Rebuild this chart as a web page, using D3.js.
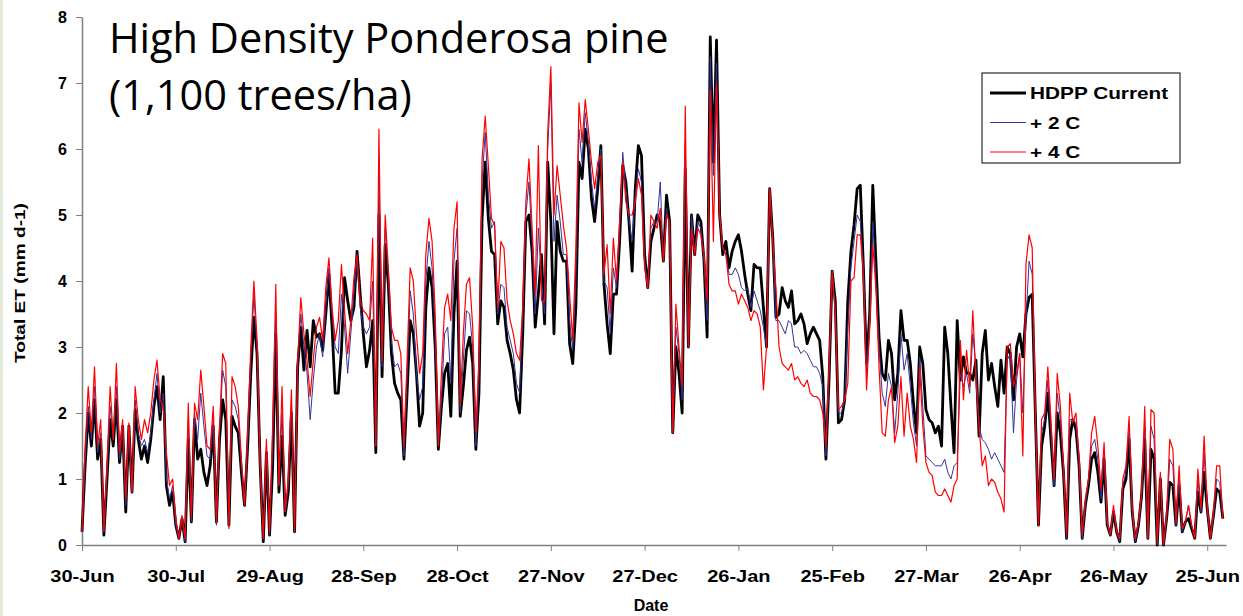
<!DOCTYPE html>
<html>
<head>
<meta charset="utf-8">
<script src="https://cdn.jsdelivr.net/npm/d3@7"></script>
<style>
  body { margin:0; background:#fff; }
  #chart svg { display:block; }
</style>
</head>
<body>
<div id="chart"></div>
<script>
// daily total ET (mm d-1), first value is 30-Jun
const hdppCurrent = [
0.2,1.2,2.0,1.5,2.2,1.3,1.6,0.15,1.0,1.9,
1.5,2.2,1.25,1.8,0.5,1.8,0.8,2.05,1.6,1.3,
1.5,1.25,1.6,2.1,2.4,1.9,2.55,0.9,0.6,0.8,
0.3,0.1,0.4,0.05,1.6,0.35,1.9,1.3,1.45,1.1,
0.9,1.2,1.8,0.35,1.6,2.2,1.9,0.3,1.95,1.8,
1.7,1.1,0.6,1.5,2.6,3.45,2.9,1.2,0.05,1.4,
0.15,1.2,3.2,0.8,1.65,0.45,0.8,2.0,0.2,2.7,
3.3,2.65,3.25,2.7,3.4,3.15,3.2,2.95,3.5,4.1,
3.3,2.3,2.3,2.95,4.05,3.7,3.4,3.6,4.45,3.8,
3.2,2.7,2.95,3.4,1.4,5.0,2.55,4.55,3.95,2.9,
2.45,2.3,2.2,1.3,2.3,3.4,3.2,2.6,1.8,2.0,
3.6,4.2,3.9,3.0,1.45,2.1,2.6,2.75,1.95,3.5,
4.3,1.95,2.4,2.95,3.15,2.75,1.45,2.3,4.95,5.8,
4.95,4.45,4.4,3.35,3.7,3.6,3.1,2.9,2.65,2.2,
2.0,3.2,4.9,5.0,4.45,3.3,3.8,4.4,3.35,5.8,
4.9,3.2,4.9,4.45,4.3,4.3,3.05,2.75,3.6,5.8,
5.55,6.3,6.0,5.25,4.9,5.4,6.05,3.95,3.35,2.9,
3.8,3.8,4.6,5.75,5.5,4.9,4.15,5.4,6.05,5.9,
4.4,3.9,4.6,4.8,5.0,4.9,4.3,5.3,4.9,1.7,
3.0,2.6,2.0,5.7,3.0,5.0,4.4,5.0,4.9,4.3,
3.15,7.7,5.8,7.65,5.0,4.4,4.6,4.2,4.45,4.6,
4.7,4.45,4.1,3.8,3.55,4.25,4.2,4.2,3.6,3.0,
5.4,4.65,3.45,3.5,3.9,3.7,3.6,3.85,3.35,3.4,
3.5,3.35,3.05,3.2,3.3,3.2,3.1,2.55,1.3,2.5,
4.15,3.7,1.85,1.9,2.2,3.7,4.45,4.85,5.4,5.45,
4.2,2.75,3.5,5.45,4.3,3.15,2.6,2.5,3.1,2.9,
2.2,2.6,3.55,3.1,3.1,2.75,2.15,1.7,3.0,2.75,
2.05,1.9,1.85,1.7,1.8,1.5,3.3,2.9,2.1,1.4,
3.4,2.5,2.85,2.6,2.6,2.5,2.8,1.65,2.9,3.25,
2.5,2.75,2.4,2.1,2.8,2.3,3.0,2.9,2.2,3.0,
3.2,2.85,3.5,3.75,3.8,2.0,0.3,1.5,1.8,2.3,
1.6,0.9,2.0,1.7,1.1,0.1,1.6,1.9,1.75,1.2,
0.1,0.6,0.9,1.3,1.4,1.1,0.65,1.3,0.3,0.15,
0.5,0.2,0.05,0.85,1.0,1.6,0.5,0.05,0.3,0.75,
1.6,0.1,1.45,1.3,0.0,1.0,0.0,0.4,0.95,0.9,
0.3,0.9,0.2,0.35,0.4,0.25,0.1,0.8,0.5,1.1,
0.55,0.1,0.45,0.85,0.8,0.4];

const plus2C = [
0.2,1.3,2.1,1.6,2.4,1.4,1.7,0.2,1.1,2.1,
1.6,2.4,1.3,1.8,0.6,1.8,0.8,2.2,1.7,1.5,
1.6,1.4,1.7,2.2,2.6,2.0,2.3,1.0,0.7,0.9,
0.3,0.1,0.4,0.05,1.9,0.35,2.0,1.6,2.3,1.8,
1.35,1.3,1.9,0.3,1.7,2.65,2.4,0.3,2.2,2.1,
1.9,1.2,0.6,1.6,2.8,3.8,3.0,1.2,0.1,1.5,
0.15,1.5,3.5,0.9,2.0,0.5,0.9,2.2,0.2,2.8,
3.5,3.0,2.6,1.9,2.5,3.0,3.2,2.85,3.6,4.2,
3.5,3.0,2.9,3.8,3.3,2.6,3.2,3.8,4.3,3.6,
3.3,3.2,3.3,4.0,1.5,5.65,2.7,4.8,4.1,3.1,
2.7,2.75,2.6,1.35,2.5,3.85,3.5,2.6,2.2,2.4,
4.0,4.6,4.2,3.2,1.5,2.2,3.2,3.3,2.5,4.3,
4.8,2.0,2.8,3.55,3.5,3.0,1.5,2.5,5.5,6.25,
5.3,4.8,4.9,3.5,3.95,3.9,3.3,3.1,2.9,2.45,
2.3,3.5,5.0,5.5,4.6,3.5,4.8,4.0,3.5,6.0,
7.0,4.6,5.3,4.9,4.4,4.4,3.4,2.95,4.0,6.3,
5.8,6.55,6.1,5.5,5.1,5.6,6.0,4.0,3.9,3.2,
4.2,3.9,4.8,5.95,5.4,4.95,4.6,5.3,5.7,5.5,
4.3,3.9,4.8,4.9,4.9,5.5,4.3,5.1,4.8,1.7,
3.3,2.9,2.2,6.1,3.0,5.0,4.4,4.9,4.8,4.3,
3.4,7.4,5.6,7.3,5.0,4.5,4.4,4.1,4.1,4.2,
4.1,3.9,3.85,3.9,3.6,3.85,3.7,3.55,3.3,3.0,
5.4,4.6,3.4,3.4,3.3,3.2,3.4,3.35,3.0,3.0,
2.9,2.95,2.9,2.8,2.7,2.7,2.6,2.4,1.35,2.6,
4.15,3.6,2.0,2.0,2.2,3.3,4.2,4.6,5.0,4.9,
4.2,2.6,3.4,4.9,4.0,3.0,2.3,2.1,2.6,2.4,
1.7,2.3,3.2,2.65,2.9,2.4,1.85,1.5,2.85,2.1,
1.35,1.3,1.25,1.2,1.2,1.2,1.3,1.1,1.0,1.2,
1.25,2.6,2.4,2.6,2.3,3.2,2.7,1.8,1.6,1.55,
1.45,1.3,1.4,1.3,1.2,1.1,2.8,2.9,1.7,2.5,
2.9,2.0,3.4,4.3,4.1,2.0,0.3,1.7,1.9,2.5,
1.7,0.9,2.3,1.9,1.2,0.1,1.9,1.9,1.85,1.25,
0.1,0.6,1.0,1.5,1.6,1.3,0.7,1.4,0.3,0.15,
0.55,0.2,0.05,0.9,1.1,1.75,0.5,0.05,0.3,0.75,
1.8,0.1,1.8,1.6,0.0,1.05,0.0,0.4,1.3,1.2,
0.3,1.0,0.2,0.35,0.6,0.3,0.1,1.0,0.5,1.4,
0.55,0.1,0.45,1.0,0.95,0.4];

const plus4C = [
0.2,1.5,2.4,1.7,2.7,1.5,1.9,0.2,1.2,2.4,
1.6,2.75,1.4,1.9,0.7,1.85,0.8,2.4,1.9,1.6,
1.9,1.7,2.0,2.5,2.8,2.2,2.1,1.4,0.9,1.0,
0.4,0.1,0.45,0.1,2.15,0.4,2.15,1.9,2.65,2.1,
1.5,1.45,2.1,0.35,1.8,2.9,2.75,0.25,2.55,2.4,
2.1,1.3,0.6,1.7,3.0,4.0,3.1,1.2,0.1,1.6,
0.2,1.8,3.95,0.9,2.4,0.5,1.0,2.35,0.2,2.8,
3.75,3.2,2.8,2.25,2.8,3.3,3.45,3.1,3.9,4.35,
3.6,3.1,3.4,4.25,3.55,2.9,3.4,4.05,4.4,3.7,
3.55,3.5,3.4,4.65,1.5,6.3,2.8,5.0,4.2,3.3,
3.1,3.1,2.9,1.5,2.8,4.2,4.0,3.2,2.6,2.9,
4.4,4.95,4.6,3.5,1.5,2.6,3.6,3.8,3.4,4.8,
5.2,2.1,3.2,3.95,4.05,3.3,1.7,2.8,5.85,6.5,
5.75,4.95,4.85,3.6,4.6,4.5,3.7,3.4,3.2,2.9,
2.8,3.6,5.2,5.85,4.8,3.8,6.05,3.7,3.7,6.25,
7.25,5.0,5.75,5.3,4.85,4.5,3.8,3.1,4.5,6.7,
6.1,6.75,6.3,5.8,5.4,5.8,5.9,4.1,4.55,3.5,
4.65,4.0,4.9,5.8,5.2,5.0,5.0,5.2,5.55,5.3,
4.2,3.9,5.0,4.9,4.8,5.1,4.3,5.0,4.9,1.7,
3.65,3.0,2.4,6.65,3.0,4.8,4.4,4.8,4.7,4.4,
3.7,6.9,4.6,7.0,5.0,4.5,4.4,3.95,3.85,3.85,
3.65,3.8,3.7,3.6,3.4,3.55,3.5,3.3,2.35,3.0,
5.4,4.6,3.9,3.0,2.75,2.7,2.65,2.75,2.5,2.55,
2.45,2.4,2.5,2.3,2.25,2.25,2.2,2.0,1.5,2.7,
4.15,3.5,2.05,2.1,2.2,2.45,4.0,4.05,4.7,4.7,
4.1,2.35,3.3,4.55,3.9,2.7,1.7,1.65,2.2,2.4,
1.55,1.8,2.55,1.65,2.3,1.8,1.6,1.25,2.7,1.8,
1.25,1.1,1.05,0.8,0.75,0.75,0.85,0.75,0.65,0.9,
1.0,3.1,2.2,2.95,2.4,3.55,2.5,1.8,1.2,1.35,
0.9,1.0,0.95,0.8,0.7,0.5,3.0,3.05,2.4,2.6,
2.9,1.35,4.25,4.7,4.5,2.0,0.3,1.9,2.0,2.7,
1.9,1.0,2.6,2.1,1.2,0.15,2.3,1.85,2.0,1.3,
0.15,0.7,1.0,1.7,1.95,1.5,0.85,1.55,0.35,0.15,
0.6,0.2,0.1,1.0,1.2,1.95,0.55,0.1,0.35,0.8,
2.1,0.1,2.05,2.0,0.05,1.1,0.0,0.45,1.6,1.45,
0.35,1.2,0.25,0.35,0.6,0.3,0.1,1.15,0.55,1.65,
0.6,0.1,0.5,1.2,1.2,0.4];

const seriesNames = ['HDPP Current', '+ 2 C', '+ 4 C'];
const xTickLabels = ['30-Jun','30-Jul','29-Aug','28-Sep','28-Oct','27-Nov','27-Dec',
  '26-Jan','25-Feb','27-Mar','26-Apr','26-May','25-Jun'];
const yTicks = [0,1,2,3,4,5,6,7,8];

const width = 1243;
const height = 616;
const plot = {left:82, right:1226, top:17, bottom:545};
const boldFont = '"Liberation Sans", Arial, sans-serif';

const start = new Date(Date.UTC(2006, 5, 30));

// scales
const x = d3.scaleUtc()
  .domain([start, d3.utcDay.offset(start, 366)])
  .range([plot.left, plot.right]);
const y = d3.scaleLinear()
  .domain([0, 8])
  .range([plot.bottom, plot.top]);

const svg = d3.select('#chart')
  .append('svg')
  .attr('width', width)
  .attr('height', height);

// faint strip on the left edge of the slide
svg.append('rect')
  .attr('x', 0).attr('y', 0)
  .attr('width', 3).attr('height', height)
  .attr('fill', '#e3ead9');

// x axis
const xTickDates = xTickLabels.map((d, i) => d3.utcDay.offset(start, i * 30));
svg.append('g')
  .attr('transform', `translate(0,${plot.bottom})`)
  .call(d3.axisBottom(x)
    .tickValues(xTickDates)
    .tickFormat((d, i) => xTickLabels[i])
    .tickSize(6)
    .tickSizeOuter(0)
    .tickPadding(20))
  .call(g => g.select('.domain').attr('stroke', '#808080').attr('stroke-width', 1.5))
  .call(g => g.selectAll('.tick line').attr('stroke', '#808080'))
  .selectAll('.tick text')
  .style('font-family', boldFont)
  .style('font-weight', 'bold')
  .style('font-size', '16px')
  .attr('transform', 'scale(1.25,1)')
  .attr('fill', '#000');

// y axis
svg.append('g')
  .attr('transform', `translate(${plot.left},0)`)
  .call(d3.axisLeft(y)
    .tickValues(yTicks)
    .tickFormat(d3.format('d'))
    .tickSize(6)
    .tickSizeOuter(0)
    .tickPadding(9))
  .call(g => g.select('.domain').attr('stroke', '#808080').attr('stroke-width', 1.5))
  .call(g => g.selectAll('.tick line').attr('stroke', '#808080'))
  .selectAll('.tick text')
  .style('font-family', boldFont)
  .style('font-weight', 'bold')
  .style('font-size', '16px')
  .attr('fill', '#000');

// lines
const line = d3.line()
  .x((d, i) => x(d3.utcDay.offset(start, i)))
  .y(d => y(d));

const styles = [
  {data: hdppCurrent, color: '#000000', w: 2.8},
  {data: plus2C, color: '#333399', w: 1},
  {data: plus4C, color: '#ff0000', w: 1.2}
];

styles.forEach(s => {
  svg.append('path')
    .datum(s.data)
    .attr('fill', 'none')
    .attr('stroke', s.color)
    .attr('stroke-width', s.w)
    .attr('stroke-linejoin', 'round')
    .attr('d', line);
});

// axis titles
svg.append('text')
  .attr('transform', `translate(25,283) rotate(-90)`)
  .attr('text-anchor', 'middle')
  .attr('textLength', 160)
  .attr('lengthAdjust', 'spacingAndGlyphs')
  .style('font-family', boldFont)
  .style('font-weight', 'bold')
  .style('font-size', '15px')
  .text('Total ET (mm d-1)');

svg.append('text')
  .attr('x', 651)
  .attr('y', 611)
  .attr('text-anchor', 'middle')
  .style('font-family', boldFont)
  .style('font-weight', 'bold')
  .style('font-size', '16px')
  .text('Date');

// chart title
const title = svg.append('text')
  .style('font-family', '"Open Sans", "Noto Sans", sans-serif')
  .style('font-size', '41.5px')
  .attr('fill', '#000');
title.append('tspan').attr('x', 109).attr('y', 53).text('High Density Ponderosa pine');
title.append('tspan').attr('x', 109).attr('y', 110).text('(1,100 trees/ha)');

// legend
const legend = svg.append('g').attr('transform', 'translate(982,73)');
legend.append('rect')
  .attr('width', 198)
  .attr('height', 90)
  .attr('fill', '#fff')
  .attr('stroke', '#000')
  .attr('stroke-width', 1);

styles.forEach((s, i) => {
  const ly = 20 + i * 29.5;
  legend.append('line')
    .attr('x1', 8).attr('x2', 44)
    .attr('y1', ly).attr('y2', ly)
    .attr('stroke', s.color)
    .attr('stroke-width', s.w);
  legend.append('text')
    .attr('transform', `translate(48,${ly + 6}) scale(1.3,1)`)
    .style('font-family', boldFont)
    .style('font-weight', 'bold')
    .style('font-size', '16px')
    .text(seriesNames[i]);
});
</script>
</body>
</html>
